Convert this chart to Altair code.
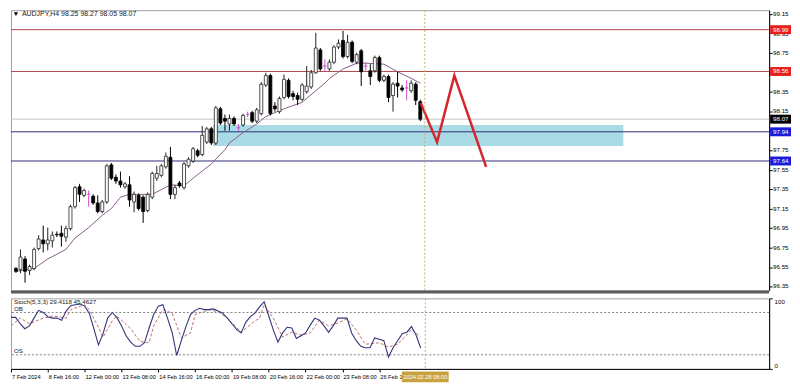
import json
import altair as alt
import pandas as pd

# ---------------- data ----------------
title_text = "AUDJPY,H4  98.25 98.27 98.05 98.07"
stoch_text = "Stoch(5,3,3) 29.4118 45.4627"

opens = [
    96.535, 96.526, 96.633, 96.516, 96.535, 96.740, 96.828, 96.789, 96.819, 96.887,
    96.897, 96.858, 96.945, 97.170, 97.375, 97.287, 97.297, 97.278, 97.209, 97.121,
    97.219, 97.600, 97.473, 97.434, 97.375, 97.395, 97.219, 97.287, 97.268, 97.131,
    97.268, 97.463, 97.492, 97.580, 97.678, 97.297, 97.414, 97.366, 97.590, 97.639,
    97.746, 97.707, 97.834, 97.971, 97.825, 98.176, 98.078, 98.020, 98.078, 97.981,
    98.010, 98.117, 98.137, 98.049, 98.127, 98.420, 98.518, 98.205, 98.147, 98.293,
    98.469, 98.332, 98.313, 98.274, 98.352, 98.401, 98.547, 98.782, 98.616, 98.586,
    98.655, 98.811, 98.879, 98.713, 98.860, 98.655, 98.772, 98.616, 98.567, 98.567,
    98.703, 98.469, 98.508, 98.313, 98.440, 98.391, 98.391, 98.362, 98.430, 98.25]
closes = [
    96.506, 96.653, 96.506, 96.555, 96.731, 96.838, 96.789, 96.828, 96.877, 96.882,
    96.867, 96.945, 97.170, 97.366, 97.297, 97.336, 97.297, 97.209, 97.121, 97.219,
    97.590, 97.463, 97.434, 97.395, 97.405, 97.239, 97.297, 97.151, 97.121, 97.297,
    97.512, 97.512, 97.590, 97.688, 97.297, 97.366, 97.385, 97.610, 97.658, 97.766,
    97.698, 97.903, 97.971, 97.825, 98.186, 98.030, 98.049, 98.078, 98.020, 97.981,
    98.108, 98.117, 98.049, 98.166, 98.430, 98.518, 98.127, 98.176, 98.283, 98.479,
    98.303, 98.303, 98.274, 98.420, 98.410, 98.547, 98.801, 98.586, 98.616, 98.655,
    98.811, 98.850, 98.713, 98.860, 98.664, 98.733, 98.557, 98.616, 98.508, 98.703,
    98.469, 98.508, 98.293, 98.430, 98.410, 98.371, 98.391, 98.440, 98.264, 98.07]
highs = [
    96.550, 96.731, 96.662, 96.574, 96.750, 96.877, 96.975, 96.955, 96.916, 96.916,
    96.975, 96.975, 97.190, 97.385, 97.405, 97.356, 97.336, 97.297, 97.287, 97.239,
    97.610, 97.620, 97.502, 97.531, 97.424, 97.483, 97.326, 97.307, 97.287, 97.317,
    97.531, 97.590, 97.610, 97.727, 97.785, 97.395, 97.434, 97.629, 97.678, 97.785,
    97.766, 98.000, 97.991, 97.991, 98.205, 98.196, 98.117, 98.117, 98.098, 98.020,
    98.127, 98.147, 98.157, 98.186, 98.450, 98.547, 98.537, 98.244, 98.303, 98.528,
    98.489, 98.362, 98.342, 98.440, 98.616, 98.576, 98.957, 98.801, 98.684, 98.684,
    98.830, 98.889, 98.977, 98.938, 98.879, 98.752, 98.791, 98.655, 98.635, 98.723,
    98.723, 98.528, 98.528, 98.450, 98.557, 98.420, 98.469, 98.469, 98.450, 98.27]
lows = [
    96.490, 96.487, 96.389, 96.467, 96.516, 96.721, 96.701, 96.721, 96.750, 96.858,
    96.760, 96.809, 96.926, 97.151, 97.219, 97.268, 97.170, 97.190, 97.102, 97.102,
    97.199, 97.444, 97.405, 97.366, 97.356, 97.170, 97.112, 97.131, 97.004, 97.112,
    97.248, 97.434, 97.473, 97.561, 97.248, 97.248, 97.366, 97.346, 97.571, 97.620,
    97.678, 97.688, 97.815, 97.805, 97.805, 98.010, 97.951, 97.951, 98.000, 97.951,
    97.991, 98.088, 98.030, 98.030, 98.108, 98.401, 98.108, 98.147, 98.127, 98.274,
    98.283, 98.264, 98.215, 98.254, 98.332, 98.381, 98.537, 98.567, 98.567, 98.567,
    98.635, 98.791, 98.694, 98.694, 98.645, 98.635, 98.410, 98.567, 98.420, 98.547,
    98.450, 98.450, 98.244, 98.147, 98.293, 98.352, 98.264, 98.342, 98.215, 98.05]

ma_idx = [0, 4, 7, 11, 13, 16, 19, 21, 23, 25, 30, 34, 37, 39, 43, 46, 47, 50, 53, 55,
          59, 63, 66, 68, 69, 72, 75, 77, 81, 84, 87, 89]
ma_val = [96.506, 96.535, 96.633, 96.731, 96.848, 96.955, 97.082, 97.151, 97.268, 97.297,
          97.297, 97.395, 97.385, 97.463, 97.610, 97.756, 97.825, 97.932, 98.020, 98.098,
          98.176, 98.244, 98.362, 98.440, 98.489, 98.586, 98.645, 98.645, 98.635, 98.557,
          98.489, 98.440]

stoch_k = [73, 73, 64, 57, 61, 72, 83, 80, 74, 72,
           72, 69, 82, 90, 91, 92, 89, 79, 57, 34,
           50, 72, 80, 73, 61, 47, 38, 32, 32, 37,
           58, 77, 89, 91, 72, 52, 19, 40, 60, 77,
           83, 86, 84, 84, 85, 82, 79, 72, 64, 56,
           51, 66, 74, 79, 88, 95, 75, 55, 38, 51,
           59, 58, 43, 47, 51, 62, 72, 69, 61, 52,
           61, 72, 72, 72, 51, 40, 32, 30, 30, 44,
           42, 40, 17, 30, 40, 50, 52, 60, 48, 29.41]
sig_idx = [0, 2, 4, 7, 9, 12, 13, 16, 17, 19, 20, 22, 23, 26, 28, 30, 31, 33, 35, 37,
           39, 40, 43, 45, 47, 50, 53, 54, 55, 57, 59, 61, 63, 65, 67, 69, 71, 73, 75, 77,
           80, 82, 84, 86, 87, 89]
sig_val = [61, 72, 64, 72, 75, 72, 84, 91, 84, 59, 45, 68, 75, 57, 39, 37, 61, 84, 79, 44,
           51, 77, 84, 81, 72, 52, 68, 72, 91, 72, 45, 52, 48, 51, 69, 61, 65, 71, 55, 35,
           37, 31, 35, 48, 56, 45.46]

level_prices = [98.99, 98.56, 98.07, 97.94, 97.64]
level_kinds = ["res", "res", "bid", "sup", "sup"]

zone_idx = [43.4, 133.7]
zone_price = [97.795, 98.010]

path_idx = [89.1, 92.7, 96.5, 103.5]
path_price = [98.235, 97.834, 98.518, 97.580]

price_ticks = [96.35, 96.55, 96.75, 96.95, 97.15, 97.35, 97.55, 97.75,
               97.95, 98.15, 98.35, 98.55, 98.75, 98.95, 99.15]
stoch_ticks = [0, 20, 80, 100]
stoch_levels = [80, 20]
date_idx = [0, 8, 16, 24, 32, 40, 48, 56, 64, 72, 80]
date_labels = ["7 Feb 2024", "8 Feb 16:00", "12 Feb 00:00", "13 Feb 08:00", "14 Feb 16:00",
               "16 Feb 00:00", "19 Feb 08:00", "20 Feb 16:00", "22 Feb 00:00",
               "23 Feb 08:00", "26 Feb 16:00"]
now_idx = 90
now_label = "2024.02.28 08:00"

# ---------------- layout / style ----------------
W, H1, H2 = 763, 282, 71
FONT = "Liberation Sans, Arial, sans-serif"
LFS = 6.2   # price labels
DFS = 5.7   # date labels

kinds = []
for o, c in zip(opens, closes):
    kinds.append("up" if c > o else ("down" if c < o else "doji"))
candles = pd.DataFrame({"idx": list(range(len(opens))), "open": opens, "close": closes,
                        "high": highs, "low": lows, "kind": kinds})
ma_df = pd.DataFrame({"idx": ma_idx, "p": ma_val})
lv_df = pd.DataFrame({"p": level_prices, "lk": level_kinds,
                      "label": [f"{v:.2f}" for v in level_prices]})
zone_df = pd.DataFrame({"x0": [zone_idx[0]], "x1": [zone_idx[1]],
                        "p0": [zone_price[0]], "p1": [zone_price[1]]})
path_df = pd.DataFrame({"idx": path_idx, "p": path_price})
tick_df = pd.DataFrame({"p": price_ticks, "label": [f"{v:.2f}" for v in price_ticks]})
k_df = pd.DataFrame({"idx": list(range(len(stoch_k))), "s": stoch_k})
d_df = pd.DataFrame({"idx": sig_idx, "s": sig_val})
lvl_df = pd.DataFrame({"s": stoch_levels})
date_df = pd.DataFrame({"idx": date_idx, "label": date_labels})
one = pd.DataFrame({"a": [0]})

xscale = alt.Scale(domain=[0, 164.7], nice=False, zero=False)
yscale = alt.Scale(domain=[96.31, 99.19], nice=False, zero=False)
yaxis = alt.Axis(orient="right", values=price_ticks, labels=False, title=None, tickSize=3)


def X(f):
    return alt.X(f, type="quantitative", scale=xscale, axis=None, title=None)


def Y(f):
    return alt.Y(f, type="quantitative", scale=yscale, axis=yaxis, title=None)


kind_fill = alt.Scale(domain=["up", "down", "doji"], range=["#ffffff", "#000000", "#d24fd2"])
kind_line = alt.Scale(domain=["up", "down", "doji"], range=["#222222", "#000000", "#d24fd2"])
line_col = alt.Scale(domain=["res", "bid", "sup"], range=["#b04848", "#c4c4c4", "#2e2e7a"])
box_col = alt.Scale(domain=["res", "bid", "sup"], range=["#e8201c", "#000000", "#1c1cd8"])

zone = alt.Chart(zone_df).mark_rect(color="#a9dbe5").encode(
    x=X("x0"), x2="x1", y=Y("p0"), y2="p1")
hlines = alt.Chart(lv_df).mark_rule(strokeWidth=1).encode(
    y=Y("p"), stroke=alt.Stroke("lk:N", scale=line_col, legend=None))
ma = alt.Chart(ma_df).mark_line(color="#8a5c8a", strokeWidth=1, clip=True).encode(
    x=X("idx"), y=Y("p"))
wick = alt.Chart(candles).mark_rule(strokeWidth=1, clip=True).encode(
    x=X("idx"), y=Y("low"), y2="high",
    color=alt.Color("kind:N", scale=kind_line, legend=None))
body = alt.Chart(candles).mark_bar(size=3, strokeWidth=0.8, clip=True).encode(
    x=X("idx"), y=Y("open"), y2="close",
    fill=alt.Fill("kind:N", scale=kind_fill, legend=None),
    stroke=alt.Stroke("kind:N", scale=kind_line, legend=None))
path = alt.Chart(path_df).mark_line(color="#d4262c", strokeWidth=2.5).encode(
    x=X("idx"), y=Y("p"))
nowline = alt.Chart(one).mark_rule(color="#c8aa72", strokeDash=[2, 2], strokeWidth=1).encode(
    x=alt.datum(now_idx, scale=xscale))
ticklabels = alt.Chart(tick_df).mark_text(align="left", baseline="middle", fontSize=LFS,
                                          color="#000000", font=FONT).encode(
    x=alt.value(W + 4), y=Y("p"), text="label:N")
boxes = alt.Chart(lv_df).mark_tick(orient="horizontal", size=21, thickness=9, opacity=1).encode(
    x=alt.value(W + 11.5), y=Y("p"), color=alt.Color("lk:N", scale=box_col, legend=None))
boxtext = alt.Chart(lv_df).mark_text(align="left", baseline="middle", fontSize=LFS,
                                     color="white", font=FONT).encode(
    x=alt.value(W + 4), y=Y("p"), text="label:N")
tri = alt.Chart(one).mark_point(shape="triangle-down", filled=True, size=18,
                                color="#000000", opacity=1).encode(
    x=alt.value(5), y=alt.value(4))
title = alt.Chart(one).mark_text(align="left", baseline="middle", fontSize=7,
                                 color="#202020", font=FONT).encode(
    x=alt.value(11), y=alt.value(4), text=alt.datum(title_text))
sep = alt.Chart(one).mark_rule(color="#5a5a5a", strokeWidth=3).encode(
    x=alt.value(0), x2=alt.value(W), y=alt.value(H1 + 1.5))

main = alt.layer(zone, hlines, ma, wick, body, path, nowline, ticklabels, boxes, boxtext,
                 tri, title, sep).resolve_scale(
    color="independent", fill="independent", stroke="independent"
).properties(width=W, height=H1)

# ---------------- stochastic panel ----------------
sscale = alt.Scale(domain=[0, 100], nice=False, zero=False)
saxis = alt.Axis(orient="right", values=stoch_ticks, title=None, tickSize=3,
                 labelPadding=2, labelFontSize=LFS, labelFlush=True)
xaxis = alt.Axis(values=date_idx, labels=False, tickSize=3, title=None)


def SX(f):
    return alt.X(f, type="quantitative", scale=xscale, axis=xaxis, title=None)


def SY(f):
    return alt.Y(f, type="quantitative", scale=sscale, axis=saxis, title=None)


levels = alt.Chart(lvl_df).mark_rule(color="#808080", strokeDash=[2, 2], strokeWidth=1).encode(
    y=SY("s"))
sig = alt.Chart(d_df).mark_line(color="#c07070", strokeDash=[3, 2], strokeWidth=1).encode(
    x=SX("idx"), y=SY("s"))
kline = alt.Chart(k_df).mark_line(color="#34347c", strokeWidth=1.1).encode(
    x=SX("idx"), y=SY("s"))
snow = alt.Chart(one).mark_rule(color="#c8aa72", strokeDash=[2, 2], strokeWidth=1).encode(
    x=alt.datum(now_idx, scale=xscale))
stitle = alt.Chart(one).mark_text(align="left", baseline="middle", fontSize=6.3,
                                  color="#202020", font=FONT).encode(
    x=alt.value(3), y=alt.value(3.5), text=alt.datum(stoch_text))
ob = alt.Chart(one).mark_text(align="left", baseline="middle", fontSize=6.3,
                              color="#202020", font=FONT).encode(
    x=alt.value(3), y=alt.datum(84.5, scale=sscale), text=alt.datum("OB"))
os_ = alt.Chart(one).mark_text(align="left", baseline="middle", fontSize=6.3,
                               color="#202020", font=FONT).encode(
    x=alt.value(3), y=alt.datum(26, scale=sscale), text=alt.datum("OS"))
dates = alt.Chart(date_df).mark_text(align="left", baseline="middle", fontSize=DFS,
                                     color="#000000", font=FONT, dx=1).encode(
    x=SX("idx"), y=alt.value(H2 + 8), text="label:N")
nowbox = alt.Chart(one).mark_tick(orient="horizontal", size=47, thickness=11,
                                  color="#c9a23f", opacity=1).encode(
    x=alt.datum(now_idx, scale=xscale), y=alt.value(H2 + 8))
nowtext = alt.Chart(one).mark_text(align="center", baseline="middle", fontSize=DFS,
                                   color="white", font=FONT).encode(
    x=alt.datum(now_idx, scale=xscale), y=alt.value(H2 + 8), text=alt.datum(now_label))

stoch = alt.layer(levels, sig, kline, snow, stitle, ob, os_, dates, nowbox, nowtext).properties(
    width=W, height=H2)

chart = (alt.vconcat(main, stoch, spacing=3)
         .properties(padding=0)
         .configure_view(stroke="#a0a0a0", strokeWidth=1)
         .configure_axis(labelFont=FONT, labelColor="#000000", domainColor="#000000",
                         tickColor="#000000", grid=False)
         .configure_text(font=FONT))

chart.save("out.html", embed_options={"renderer": "svg", "actions": False})
